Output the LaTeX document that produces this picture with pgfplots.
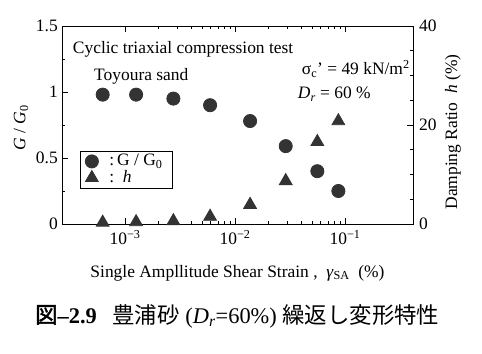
\documentclass[border=0pt]{standalone}
\usepackage{fontspec}
\setmainfont{Liberation Serif}
\newfontfamily\cjk{Noto Sans CJK JP}
\newfontfamily\cjkb[FakeBold=2]{Noto Sans CJK JP}
\usepackage{pgfplots}
\pgfplotsset{compat=1.18}
\definecolor{mk}{gray}{0.2}
\begin{document}
\begin{tikzpicture}
\fontsize{17.5}{20}\selectfont
\begin{axis}[
  at={(0,0)}, anchor=south west,
  scale only axis, width=351bp, height=198bp,
  xmode=log, xmin=2.67e-4, xmax=0.415,
  ymin=0, ymax=1.5,
  ytick={0,0.5,1,1.5}, yticklabels={0,0.5,1,1.5},
  minor ytick={0.25,0.75,1.25},
  xtick={1e-3,1e-2,1e-1},
  xticklabels={10\textsuperscript{−3},10\textsuperscript{−2},10\textsuperscript{−1}},
  ytick pos=left, xtick pos=both,
  tick align=inside,
  major tick length=6bp, minor tick length=3bp,
  line width=0.8pt,
  every tick/.style={line width=0.6pt},
  tick label style={font=\fontsize{17.5}{20}\selectfont},
  yticklabel style={xshift=2bp},
  /pgf/number format/assume math mode=true,
  clip=false,
  legend style={at={(rel axis cs:0.051,0.369)}, anchor=north west, draw=black, line width=0.8pt,
    font=\fontsize{17.5}{20}\selectfont, inner xsep=5bp, inner ysep=1bp, row sep=-2bp,
    /tikz/every odd column/.append style={column sep=9bp}},
  legend image post style={xshift=4bp},
  legend cell align=left,
]
\addplot[only marks, mark=*, mark size=6.6pt, color=mk, fill=mk] coordinates {
 (6.26e-4,0.98) (1.26e-3,0.98) (2.75e-3,0.95) (5.93e-3,0.90)
 (0.0137,0.78) (0.0289,0.59) (0.056,0.40) (0.087,0.25)};
\addlegendentry{:\,G / G\textsubscript{0}\hbox to 3bp{}}
\addlegendimage{only marks, mark=triangle*, mark size=7.4pt, color=mk, fill=mk}
\addlegendentry{:\ \ \textit{h}}
\node[anchor=base west] at (axis cs:2.95e-4,1.29) {Cyclic triaxial compression test};
\node[anchor=base west] at (axis cs:4.6e-4,1.09) {Toyoura sand};
\node[anchor=base east, inner sep=0pt] at (axis cs:0.39,1.13) {σ\textsubscript{c}’ = 49 kN/m\textsuperscript{2}};
\node[anchor=base west, inner sep=0pt] at (axis cs:0.037,0.95) {\textit{D}\textsubscript{\textit{r}} = 60 \%};
\end{axis}
\begin{axis}[
  at={(0,0)}, anchor=south west,
  scale only axis, width=351bp, height=198bp,
  xmode=log, xmin=2.67e-4, xmax=0.415,
  ymin=0, ymax=40,
  axis x line=none,
  axis y line*=right,
  ytick={0,20,40}, minor y tick num=3,
  tick align=inside,
  major tick length=6bp, minor tick length=3bp,
  line width=0.8pt,
  every tick/.style={line width=0.6pt},
  tick label style={font=\fontsize{17.5}{20}\selectfont},
  /pgf/number format/assume math mode=true,
  clip=false,
]
\addplot[only marks, mark=triangle*, mark size=7.4pt, color=mk, fill=mk] coordinates {
 (6.26e-4,0.3) (1.26e-3,0.4) (2.75e-3,0.6) (5.93e-3,1.5)
 (0.0137,3.9) (0.0289,8.7) (0.056,16.6) (0.087,20.8)};
\end{axis}
\node[rotate=90, anchor=center] at (-41bp,96bp) {\textit{G} / \textit{G}\textsubscript{0}};
\node[rotate=90, anchor=center] at (391bp,92bp) {Damping Ratio\ \ \textit{h}\ (\%)};
\node[anchor=base, inner sep=0pt] at (175.5bp,-53bp) {Single Ampllitude Shear Strain ,\ \ \textit{γ}\textsubscript{SA}\ \ (\%)};
\node[anchor=base west, inner sep=0pt, font=\fontsize{22.5}{26}\selectfont] at (-27bp,-99bp)
  {{\cjkb 図}\textbf{–2.9}\hspace{0.7em}{\cjk 豊浦砂} (\textit{D}\textsubscript{\textit{r}}=60\%) {\cjk 繰返し変形特性}};
\pgfresetboundingbox
\path (-62bp,-130bp) rectangle (420bp,224bp);
\end{tikzpicture}
\end{document}
